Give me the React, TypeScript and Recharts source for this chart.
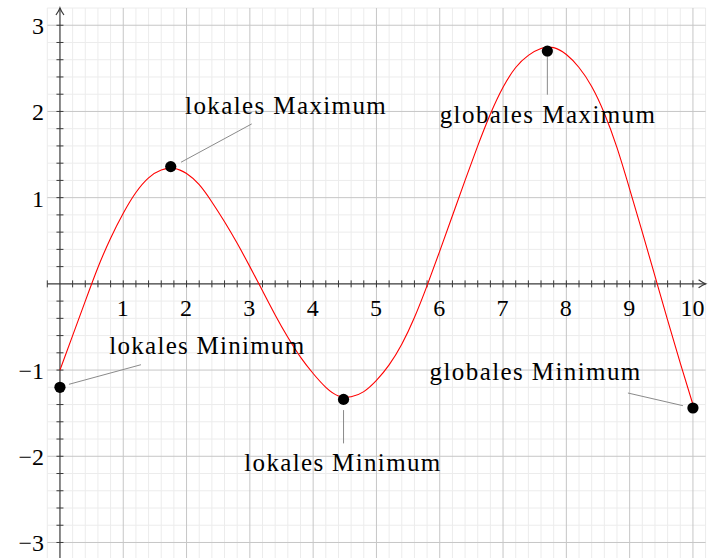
import React from 'react';
import { ComposedChart, Line, XAxis, YAxis, ReferenceLine, ReferenceDot } from 'recharts';

// sampled curve
const xValues = [
  0, 0.2, 0.4, 0.6, 0.8, 1, 1.2, 1.4, 1.6, 1.8, 2, 2.2, 2.4, 2.6, 2.8, 3, 3.2, 3.4, 3.6, 3.8,
  4, 4.2, 4.4, 4.6, 4.8, 5, 5.2, 5.4, 5.6, 5.8, 6, 6.2, 6.4, 6.6, 6.8, 7, 7.2, 7.4, 7.6, 7.8,
  8, 8.2, 8.4, 8.6, 8.8, 9, 9.2, 9.4, 9.6, 9.8, 10,
];
const yValues = [
  -1.0, -0.6, -0.2, 0.19, 0.53, 0.82, 1.06, 1.23, 1.32, 1.34, 1.28, 1.15, 0.95, 0.72, 0.47, 0.2, -0.08, -0.36, -0.62, -0.85,
  -1.04, -1.2, -1.3, -1.31, -1.25, -1.12, -0.94, -0.7, -0.39, -0.02, 0.38, 0.79, 1.2, 1.6, 1.97, 2.28, 2.51, 2.65, 2.73, 2.74,
  2.66, 2.51, 2.29, 1.98, 1.58, 1.1, 0.6, 0.09, -0.42, -0.92, -1.4,
];

// marked extrema
const extremaX = [0, 1.75, 4.48, 7.7, 10];
const extremaY = [-1.2, 1.36, -1.34, 2.7, -1.44];
const extremaNames = ['lokales Minimum', 'lokales Maximum', 'lokales Minimum', 'globales Maximum', 'globales Minimum'];

const xTicks = [1, 2, 3, 4, 5, 6, 7, 8, 9, 10];
const xTickLabels = ['1', '2', '3', '4', '5', '6', '7', '8', '9', '10'];
const yTicks = [-3, -2, -1, 1, 2, 3];
const yTickLabels = ['\u22123', '\u22122', '\u22121', '1', '2', '3'];

const curve = xValues.map((x, i) => ({ x, y: yValues[i] }));

// pin line and label placement around each dot, in px
const pins = [
  { line: [9, -3, 81, -22.6], text: [146.8, -33.3], width: 195 },
  { line: [10.3, -4.4, 81, -42.7], text: [114.7, -52.4], width: 200.7 },
  { line: [0, 10.7, 0, 44], text: [-1.3, 71.7], width: 196 },
  { line: [0, 6, 0, 43.6], text: [0, 72], width: 215.4 },
  { line: [-10, -2.3, -65, -15], text: [-158, -28.3], width: 210.7 },
];

const textStyle = { fontFamily: "'Liberation Serif', serif" };
const AXIS = '#3a3a3a';
const MAJOR = '#c6c6c6';
const MINOR = '#ececec';

// grid steps of 0.2
const gridX: number[] = [];
for (let i = -1; i <= 51; i++) gridX.push(i);
const gridY: number[] = [];
for (let j = -15; j <= 16; j++) gridY.push(j);

const App: React.FC = () => {
  const minorX = gridX.filter((i) => i % 5 !== 0);
  const majorX = gridX.filter((i) => i % 5 === 0 && i !== 0);
  const minorY = gridY.filter((j) => j % 5 !== 0);
  const majorY = gridY.filter((j) => j % 5 === 0 && j !== 0);

  return (
    <div style={{ position: 'absolute', left: 0, top: 0, background: '#fff' }}>
      <ComposedChart
        width={708}
        height={558}
        data={curve}
        margin={{ top: 8, right: 2.4, bottom: 0, left: 47.3 }}
      >
        <XAxis type="number" dataKey="x" domain={[-0.2, 10.2]} hide allowDataOverflow />
        <YAxis type="number" domain={[-3.18, 3.2]} hide allowDataOverflow />

        {minorX.map((i) => (
          <ReferenceLine key={'mx' + i} x={i / 5} stroke={MINOR} strokeWidth={1} ifOverflow="visible" zIndex={-100} />
        ))}
        {minorY.map((j) => (
          <ReferenceLine key={'my' + j} y={j / 5} stroke={MINOR} strokeWidth={1} ifOverflow="visible" zIndex={-100} />
        ))}
        {majorX.map((i) => (
          <ReferenceLine key={'Mx' + i} x={i / 5} stroke={MAJOR} strokeWidth={1} ifOverflow="visible" zIndex={-90} />
        ))}
        {majorY.map((j) => (
          <ReferenceLine key={'My' + j} y={j / 5} stroke={MAJOR} strokeWidth={1} ifOverflow="visible" zIndex={-90} />
        ))}

        {/* axes through the origin */}
        <ReferenceLine y={0} stroke={AXIS} strokeWidth={1.2} ifOverflow="visible" zIndex={-80} />
        <ReferenceLine x={0} stroke={AXIS} strokeWidth={1.2} ifOverflow="visible" zIndex={-80} />

        {gridX.filter((i) => i <= 50 && i !== 0).map((i) => (
          <ReferenceDot
            key={'tx' + i}
            x={i / 5}
            y={0}
            r={0}
            ifOverflow="visible"
            zIndex={-80}
            shape={(p: any) => <line x1={p.cx} x2={p.cx} y1={p.cy - 3.5} y2={p.cy + 3.5} stroke={AXIS} strokeWidth={1} />}
          />
        ))}
        {gridY.filter((j) => j <= 15 && j !== 0).map((j) => (
          <ReferenceDot
            key={'ty' + j}
            x={0}
            y={j / 5}
            r={0}
            ifOverflow="visible"
            zIndex={-80}
            shape={(p: any) => <line x1={p.cx - 3.5} x2={p.cx + 3.5} y1={p.cy} y2={p.cy} stroke={AXIS} strokeWidth={1} />}
          />
        ))}

        {/* arrow heads */}
        <ReferenceDot
          x={10.2}
          y={0}
          r={0}
          ifOverflow="visible"
          shape={(p: any) => (
            <path
              d={`M${p.cx - 7} ${p.cy - 4} Q${p.cx - 2.5} ${p.cy - 0.8} ${p.cx} ${p.cy} Q${p.cx - 2.5} ${p.cy + 0.8} ${p.cx - 7} ${p.cy + 4}`}
              fill="none"
              stroke={AXIS}
              strokeWidth={1.2}
            />
          )}
        />
        <ReferenceDot
          x={0}
          y={3.2}
          r={0}
          ifOverflow="visible"
          shape={(p: any) => (
            <path
              d={`M${p.cx - 4} ${p.cy + 7} Q${p.cx - 0.8} ${p.cy + 2.5} ${p.cx} ${p.cy} Q${p.cx + 0.8} ${p.cy + 2.5} ${p.cx + 4} ${p.cy + 7}`}
              fill="none"
              stroke={AXIS}
              strokeWidth={1.2}
            />
          )}
        />

        {xTicks.map((v, i) => (
          <ReferenceDot
            key={'lx' + v}
            x={v}
            y={0}
            r={0}
            ifOverflow="visible"
            shape={(p: any) => (
              <text x={p.cx - 0.5} y={p.cy + 32.3} textAnchor="middle" style={textStyle} fontSize={24} fill="#000">
                {xTickLabels[i]}
              </text>
            )}
          />
        ))}
        {yTicks.map((v, i) => (
          <ReferenceDot
            key={'ly' + v}
            x={0}
            y={v}
            r={0}
            ifOverflow="visible"
            shape={(p: any) => (
              <text x={p.cx - 16} y={p.cy + 9} textAnchor="end" style={textStyle} fontSize={24} fill="#000">
                {yTickLabels[i]}
              </text>
            )}
          />
        ))}

        <Line
          type="natural"
          dataKey="y"
          stroke="#ff0000"
          strokeWidth={1.1}
          dot={false}
          activeDot={false}
          isAnimationActive={false}
        />

        {extremaX.map((x, i) => (
          <ReferenceDot
            key={'e' + i}
            x={x}
            y={extremaY[i]}
            r={5.6}
            ifOverflow="visible"
            shape={(p: any) => {
              const pin = pins[i];
              return (
                <g>
                  <line
                    x1={p.cx + pin.line[0]}
                    y1={p.cy + pin.line[1]}
                    x2={p.cx + pin.line[2]}
                    y2={p.cy + pin.line[3]}
                    stroke="#8a8a8a"
                    strokeWidth={1}
                  />
                  <circle cx={p.cx} cy={p.cy} r={5.6} fill="#000" />
                  <text
                    x={p.cx + pin.text[0]}
                    y={p.cy + pin.text[1]}
                    textAnchor="middle"
                    style={textStyle}
                    fontSize={25}
                    textLength={pin.width}
                    lengthAdjust="spacing"
                    fill="#000"
                  >
                    {extremaNames[i]}
                  </text>
                </g>
              );
            }}
          />
        ))}
      </ComposedChart>
    </div>
  );
};

export default App;
